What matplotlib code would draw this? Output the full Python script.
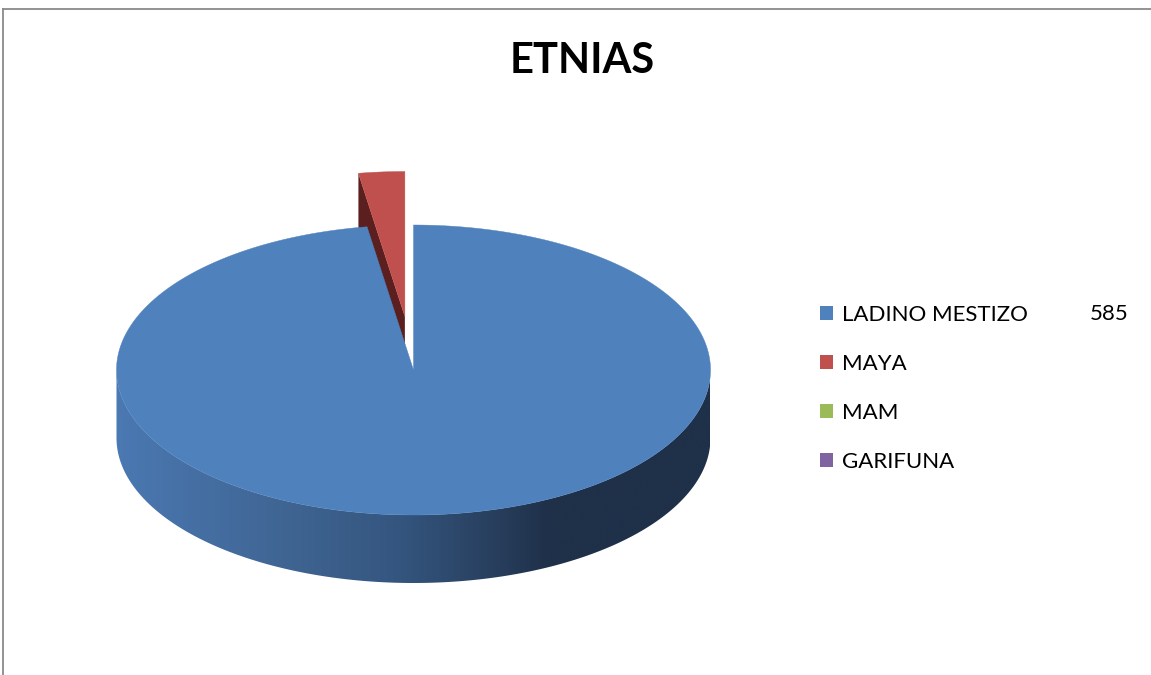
import numpy as np
import matplotlib
matplotlib.use("Agg")
import matplotlib.pyplot as plt
from matplotlib.patches import Polygon, Patch
from matplotlib.colors import LinearSegmentedColormap

# data
categories = ["LADINO MESTIZO", "MAYA", "MAM", "GARIFUNA"]
values = [585, 15, 0, 0]
colors = ["#4f81bd", "#c0504d", "#9bbb59", "#8064a2"]
side_colors = ["#1f3049", "#5a1f1e", "#4d5d2c", "#403251"]
explode = [0.0, 0.37, 0.0, 0.0]

# layout of the 3d pie (pixels)
W, H = 1151, 675
cx, cy = 413.5, 370
rx, ry = 297, 145
depth = 68

fig = plt.figure(figsize=(W / 100, H / 100), dpi=100)
ax = fig.add_axes([0, 0, 1, 1])
ax.set_xlim(0, W)
ax.set_ylim(H, 0)
ax.axis("off")

# chart border (only top and left visible)
ax.plot([3.5, W], [8.5, 8.5], color="#8a8a8a", lw=1.3)
ax.plot([3.5, 3.5], [8.5, H], color="#8a8a8a", lw=1.3)


def pt(a, off=(0, 0), dz=0):
    # a: angle clockwise from 12 o'clock (radians)
    return (cx + off[0] + rx * np.sin(a), cy + off[1] - ry * np.cos(a) + dz)


# side wall gradient for the big slice (left to right)
grad_cmap = LinearSegmentedColormap.from_list(
    "side", [(0.0, "#4b79b3"), (0.02, "#4a77b0"), (0.31, "#3e6390"),
             (0.48, "#34557e"), (0.65, "#273d5b"), (0.73, "#1f3049"),
             (1.0, "#1f3049")])

total = sum(values)
start = 0.0
slices = []
for v, c, sc, e in zip(values, colors, side_colors, explode):
    span = 2 * np.pi * v / total
    slices.append((start, start + span, c, sc, e))
    start += span

# draw back slices first (exploded small slice at the top)
order = [1, 0]
for i in order:
    a0, a1, c, sc, e = slices[i]
    if a1 - a0 <= 0:
        continue
    mid = (a0 + a1) / 2
    off = (e * rx * np.sin(mid), -e * ry * np.cos(mid))
    apex = (cx + off[0], cy + off[1])
    # left radial wall (visible for a slice at top-left)
    if i != 0:
        p_out = pt(a0, off)
        wall = [apex, p_out, (p_out[0], p_out[1] + depth), (apex[0], apex[1] + depth)]
        ax.add_patch(Polygon(wall, closed=True, facecolor=sc, edgecolor="none", zorder=2 + i))
    # outer side wall, front half only
    lo = max(a0, np.pi / 2)
    hi = min(a1, 3 * np.pi / 2)
    if hi > lo:
        angs = np.linspace(lo, hi, 400)
        upper = [pt(a, off) for a in angs]
        lower = [pt(a, off, depth) for a in angs[::-1]]
        side = Polygon(upper + lower, closed=True, facecolor="none", edgecolor="none")
        ax.add_patch(side)
        if i == 0:
            xs = np.linspace(0, 1, 512).reshape(1, -1)
            im = ax.imshow(xs, cmap=grad_cmap, aspect="auto", zorder=5,
                           extent=(cx - rx, cx + rx, cy + ry + depth + 2, cy - 2),
                           interpolation="bilinear")
            im.set_clip_path(side)
        else:
            side.set_facecolor(sc)
    # top face
    angs = np.linspace(a0, a1, 400)
    top = [apex] + [pt(a, off) for a in angs]
    ax.add_patch(Polygon(top, closed=True, facecolor=c, edgecolor=c, lw=0.3, zorder=6))

ax.set_xlim(0, W)
ax.set_ylim(H, 0)

# title
ax.text(582, 61, "ETNIAS", ha="center", va="center", fontsize=30,
        fontweight="bold", family="Lato", color="black")

# legend
handles = [Patch(facecolor=c, edgecolor="none") for c in colors]
leg = ax.legend(handles, categories, loc="upper left", bbox_to_anchor=(820, 305),
                bbox_transform=ax.transData, frameon=False,
                prop={"family": "Lato", "size": 16}, handlelength=0.6,
                handleheight=0.6, handletextpad=0.4, labelspacing=1.3,
                borderpad=0, borderaxespad=0)
ax.text(1129, 314, str(values[0]), ha="right", va="center", fontsize=16,
        family="Lato", color="black")

fig.savefig("out.png", dpi=100)
